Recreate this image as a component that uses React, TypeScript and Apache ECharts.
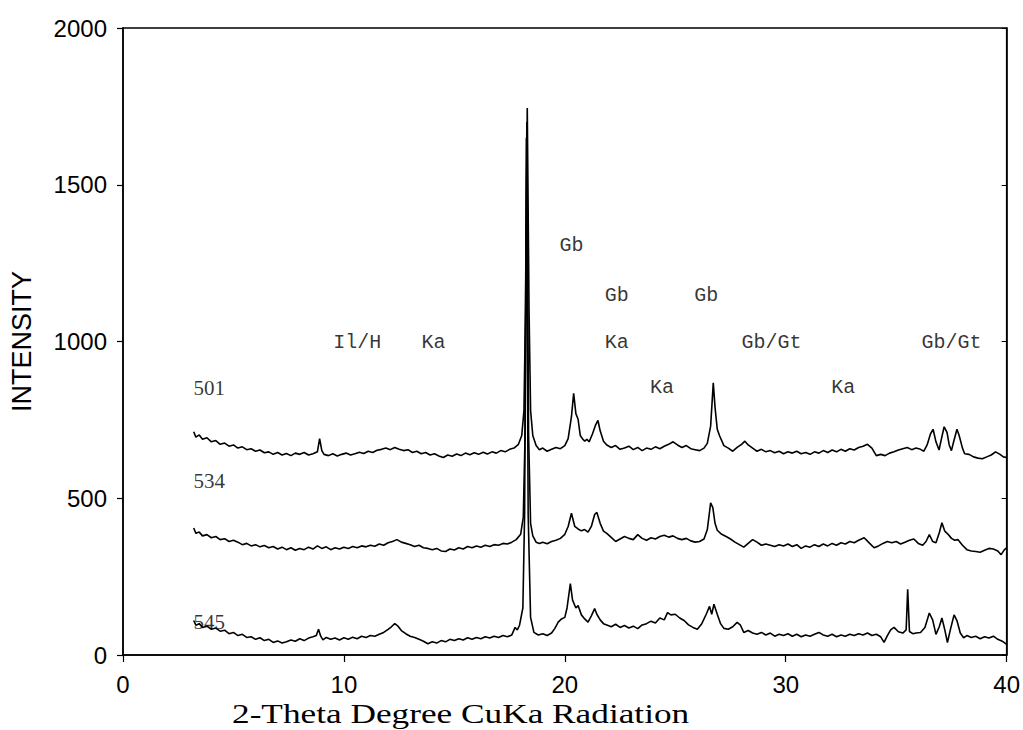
import React, { useEffect, useRef } from "react";
import * as echarts from "echarts";

// 2-theta (deg) vs intensity, sample 501 (top trace)
const s501: [number, number][] = [
  [3.2,712],[3.3,695],[3.45,702],[3.6,688],[3.8,693],[4.0,680],[4.2,684],[4.4,672],[4.6,676],[4.8,666],[5.0,670],[5.2,660],[5.4,664],[5.6,655],[5.8,658],[6.0,650],[6.2,654],[6.4,645],[6.6,648],[6.8,640],[7.0,646],[7.2,638],[7.4,643],[7.6,636],[7.8,644],[8.0,640],[8.2,646],[8.4,638],[8.6,642],[8.8,648],[8.9,690],[9.0,652],[9.1,640],[9.3,636],[9.5,642],[9.7,635],[9.9,640],[10.1,644],[10.3,638],[10.5,642],[10.7,647],[10.9,643],[11.1,650],[11.3,646],[11.5,653],[11.7,656],[11.9,660],[12.1,655],[12.3,662],[12.5,656],[12.7,652],[12.9,655],[13.1,646],[13.3,650],[13.5,642],[13.7,646],[13.9,638],[14.1,642],[14.3,635],[14.5,630],[14.7,638],[14.9,634],[15.1,641],[15.3,636],[15.5,644],[15.7,639],[15.9,645],[16.1,640],[16.3,647],[16.5,641],[16.7,648],[16.9,644],[17.1,652],[17.3,648],[17.5,656],[17.7,660],[17.9,672],[18.05,700],[18.15,780],[18.22,1100],[18.3,1745],[18.38,1100],[18.45,780],[18.55,700],[18.7,668],[18.85,655],[19.0,660],[19.2,650],[19.4,656],[19.6,662],[19.8,658],[20.0,668],[20.15,690],[20.3,760],[20.4,835],[20.5,770],[20.6,752],[20.7,700],[20.8,690],[20.9,682],[21.0,688],[21.1,680],[21.25,705],[21.4,735],[21.5,748],[21.6,715],[21.75,682],[21.9,670],[22.1,662],[22.3,668],[22.5,656],[22.7,660],[22.9,666],[23.1,655],[23.3,662],[23.5,652],[23.7,660],[23.9,656],[24.1,664],[24.3,658],[24.5,666],[24.7,672],[24.9,680],[25.1,670],[25.3,662],[25.5,668],[25.7,658],[25.9,655],[26.1,652],[26.3,660],[26.45,675],[26.6,730],[26.72,868],[26.8,790],[26.9,720],[27.0,700],[27.2,668],[27.4,660],[27.6,650],[27.8,662],[28.0,672],[28.15,682],[28.3,670],[28.5,660],[28.7,650],[28.9,656],[29.1,648],[29.3,652],[29.5,645],[29.7,650],[29.9,642],[30.1,648],[30.3,644],[30.5,650],[30.7,642],[30.9,646],[31.1,640],[31.3,648],[31.5,644],[31.7,652],[31.9,646],[32.1,654],[32.3,648],[32.5,656],[32.7,650],[32.9,658],[33.1,654],[33.3,662],[33.5,666],[33.7,672],[33.9,660],[34.1,636],[34.3,640],[34.5,636],[34.7,644],[34.9,648],[35.1,654],[35.3,658],[35.5,662],[35.7,655],[35.9,660],[36.1,656],[36.25,650],[36.4,670],[36.55,705],[36.67,720],[36.8,680],[36.94,654],[37.05,690],[37.17,728],[37.3,710],[37.4,670],[37.5,652],[37.6,680],[37.75,720],[37.85,700],[38.0,660],[38.1,642],[38.3,640],[38.5,632],[38.7,628],[38.9,626],[39.1,632],[39.3,638],[39.5,648],[39.7,640],[39.85,632],[40.0,630]
];

// sample 534 (middle trace)
const s534: [number, number][] = [
  [3.2,405],[3.3,388],[3.45,392],[3.6,380],[3.8,384],[4.0,374],[4.2,378],[4.4,368],[4.6,371],[4.8,362],[5.0,366],[5.2,360],[5.4,352],[5.6,356],[5.8,348],[6.0,352],[6.2,345],[6.4,349],[6.6,342],[6.8,346],[7.0,338],[7.2,344],[7.4,336],[7.6,342],[7.8,334],[8.0,340],[8.2,336],[8.4,344],[8.6,338],[8.8,348],[9.0,340],[9.2,345],[9.4,336],[9.6,342],[9.8,338],[10.0,344],[10.2,340],[10.4,346],[10.6,342],[10.8,348],[11.0,345],[11.2,350],[11.4,347],[11.6,354],[11.8,350],[12.0,358],[12.2,362],[12.4,368],[12.6,360],[12.8,356],[13.0,352],[13.2,346],[13.4,350],[13.6,342],[13.8,340],[14.0,336],[14.2,340],[14.4,332],[14.6,330],[14.8,338],[15.0,335],[15.2,342],[15.4,338],[15.6,346],[15.8,342],[16.0,348],[16.2,344],[16.4,350],[16.6,346],[16.8,352],[17.0,350],[17.2,356],[17.4,354],[17.6,360],[17.8,368],[18.0,385],[18.12,440],[18.2,700],[18.28,1700],[18.36,700],[18.45,420],[18.55,380],[18.7,360],[18.85,356],[19.0,360],[19.2,355],[19.4,362],[19.6,366],[19.8,372],[20.0,385],[20.15,410],[20.3,452],[20.45,410],[20.6,402],[20.75,396],[20.9,400],[21.05,392],[21.2,410],[21.35,448],[21.45,455],[21.6,420],[21.75,395],[21.9,388],[22.1,375],[22.3,362],[22.5,370],[22.7,378],[22.9,372],[23.1,368],[23.3,384],[23.5,372],[23.7,366],[23.9,374],[24.1,370],[24.3,378],[24.5,382],[24.7,376],[24.9,380],[25.1,372],[25.3,368],[25.5,372],[25.7,364],[25.9,360],[26.1,362],[26.3,370],[26.45,400],[26.6,485],[26.7,470],[26.8,420],[26.9,398],[27.1,385],[27.3,378],[27.5,370],[27.7,360],[27.9,352],[28.1,344],[28.3,356],[28.5,368],[28.7,360],[28.9,350],[29.1,354],[29.3,350],[29.5,346],[29.7,352],[29.9,348],[30.1,354],[30.3,346],[30.5,352],[30.7,340],[30.9,348],[31.1,344],[31.3,352],[31.5,346],[31.7,354],[31.9,348],[32.1,356],[32.3,350],[32.5,358],[32.7,354],[32.9,362],[33.1,358],[33.3,366],[33.55,374],[33.8,356],[34.0,342],[34.2,348],[34.4,356],[34.6,362],[34.8,358],[35.0,362],[35.2,354],[35.4,360],[35.6,366],[35.8,370],[36.0,356],[36.2,350],[36.35,362],[36.5,384],[36.65,362],[36.8,358],[36.95,390],[37.07,422],[37.2,395],[37.35,385],[37.5,372],[37.65,366],[37.8,368],[38.0,350],[38.2,336],[38.4,332],[38.6,330],[38.8,328],[39.0,334],[39.2,340],[39.4,338],[39.6,332],[39.75,320],[39.9,336],[40.0,342]
];

// sample 545 (bottom trace)
const s545: [number, number][] = [
  [3.2,110],[3.3,95],[3.45,100],[3.6,88],[3.8,92],[4.0,82],[4.2,86],[4.4,76],[4.6,79],[4.8,68],[5.0,72],[5.2,62],[5.4,66],[5.6,56],[5.8,58],[6.0,50],[6.2,55],[6.4,46],[6.6,50],[6.8,40],[7.0,45],[7.2,38],[7.4,42],[7.6,48],[7.8,44],[8.0,52],[8.2,46],[8.4,54],[8.6,58],[8.75,62],[8.85,82],[8.95,60],[9.05,48],[9.2,56],[9.4,50],[9.6,54],[9.8,48],[10.0,55],[10.2,50],[10.4,57],[10.6,52],[10.8,60],[11.0,56],[11.2,62],[11.4,60],[11.6,66],[11.8,72],[12.0,82],[12.15,90],[12.3,100],[12.45,92],[12.6,78],[12.8,68],[13.0,60],[13.2,56],[13.4,50],[13.6,44],[13.8,36],[14.0,42],[14.2,38],[14.4,46],[14.6,42],[14.8,50],[15.0,46],[15.2,52],[15.4,48],[15.6,55],[15.8,50],[16.0,56],[16.2,52],[16.4,58],[16.6,54],[16.8,60],[17.0,56],[17.2,62],[17.4,58],[17.6,64],[17.75,88],[17.85,80],[17.95,95],[18.1,150],[18.18,450],[18.26,1650],[18.34,450],[18.45,120],[18.6,72],[18.8,64],[19.0,68],[19.2,62],[19.4,70],[19.55,85],[19.7,105],[19.85,115],[20.0,120],[20.1,150],[20.25,228],[20.35,175],[20.5,150],[20.6,158],[20.75,128],[20.9,115],[21.05,105],[21.2,125],[21.35,148],[21.45,130],[21.6,112],[21.75,100],[21.9,96],[22.1,90],[22.3,98],[22.5,88],[22.7,94],[22.9,86],[23.1,92],[23.3,84],[23.5,96],[23.7,100],[23.9,108],[24.1,102],[24.3,118],[24.5,112],[24.65,135],[24.8,128],[25.0,130],[25.2,118],[25.4,110],[25.6,96],[25.8,88],[26.0,82],[26.2,100],[26.4,130],[26.55,155],[26.65,130],[26.75,162],[26.9,130],[27.05,100],[27.2,85],[27.4,82],[27.6,90],[27.8,104],[27.95,95],[28.1,72],[28.3,78],[28.5,70],[28.7,66],[28.9,72],[29.1,64],[29.3,70],[29.5,60],[29.7,66],[29.9,62],[30.1,68],[30.3,60],[30.5,66],[30.7,58],[30.9,64],[31.1,60],[31.3,66],[31.5,72],[31.7,64],[31.9,60],[32.1,66],[32.3,58],[32.5,64],[32.7,60],[32.9,66],[33.1,62],[33.3,68],[33.5,64],[33.7,70],[33.9,62],[34.1,66],[34.3,58],[34.45,40],[34.6,62],[34.75,80],[34.9,88],[35.1,74],[35.3,70],[35.45,80],[35.52,210],[35.6,75],[35.75,68],[35.9,70],[36.1,72],[36.3,88],[36.5,134],[36.65,112],[36.8,66],[36.95,90],[37.07,118],[37.2,80],[37.32,40],[37.45,80],[37.62,128],[37.75,110],[37.9,70],[38.05,55],[38.2,62],[38.4,56],[38.6,60],[38.8,52],[39.0,58],[39.2,54],[39.4,60],[39.6,50],[39.8,44],[40.0,34]
];

// phase annotations: [2-theta, intensity, label]
const phaseLabels: [number, number, string][] = [
  [20.3, 1305, "Gb"],
  [22.35, 1148, "Gb"],
  [26.4, 1148, "Gb"],
  [10.6, 998, "Il/H"],
  [14.05, 998, "Ka"],
  [22.35, 998, "Ka"],
  [29.35, 998, "Gb/Gt"],
  [37.5, 998, "Gb/Gt"],
  [24.4, 852, "Ka"],
  [32.6, 852, "Ka"],
];

// sample name labels: [2-theta, intensity, label]
const sampleLabels: [number, number, string][] = [
  [3.9, 852, "501"],
  [3.9, 555, "534"],
  [3.9, 105, "545"],
];

const yTicks = [0, 500, 1000, 1500, 2000];
const xTicks = [0, 10, 20, 30, 40];

export default function App() {
  const ref = useRef<HTMLDivElement>(null);
  useEffect(() => {
    if (!ref.current) return;
    const chart = echarts.init(ref.current, undefined, { renderer: "svg" });
    const lineSeries = (data: [number, number][], name: string) => ({
      type: "line",
      name,
      data,
      showSymbol: false,
      symbol: "none",
      lineStyle: { color: "#000", width: 1.6 },
      silent: true,
      z: 3,
    });
    chart.setOption({
      animation: false,
      backgroundColor: "#fff",
      grid: {
        left: 122,
        right: 13,
        top: 28,
        bottom: 75,
        show: true,
        borderColor: "#000",
        borderWidth: 1.5,
        backgroundColor: "transparent",
      },
      xAxis: {
        type: "value",
        min: xTicks[0],
        max: xTicks[xTicks.length - 1],
        interval: 10,
        axisLine: { show: true, onZero: false, lineStyle: { color: "#000", width: 1.5 } },
        axisTick: { show: true, inside: false, length: 7, lineStyle: { color: "#000", width: 1.2 } },
        axisLabel: {
          color: "#000",
          fontSize: 24,
          fontFamily: "Liberation Sans, Arial, sans-serif",
          margin: 17,
          formatter: (v: number) => String(v),
        },
        splitLine: { show: false },
      },
      yAxis: [
        {
          type: "value",
          min: yTicks[0],
          max: yTicks[yTicks.length - 1],
          interval: 500,
          name: "INTENSITY",
          nameLocation: "middle",
          nameGap: 88,
          nameTextStyle: {
            color: "#000",
            fontSize: 27,
            fontFamily: "Liberation Sans, Arial, sans-serif",
          },
          axisLine: { show: true, lineStyle: { color: "#000", width: 1.5 } },
          axisTick: { show: true, inside: false, length: 6, lineStyle: { color: "#000", width: 1.2 } },
          axisLabel: {
            color: "#000",
            fontSize: 24,
            fontFamily: "Liberation Sans, Arial, sans-serif",
            margin: 16,
            formatter: (v: number) => String(v),
          },
          splitLine: { show: false },
        },
        {
          type: "value",
          position: "right",
          min: yTicks[0],
          max: yTicks[yTicks.length - 1],
          interval: 500,
          axisLine: { show: true, lineStyle: { color: "#000", width: 1.5 } },
          axisTick: { show: true, inside: true, length: 5, lineStyle: { color: "#000", width: 1 } },
          axisLabel: { show: false },
          splitLine: { show: false },
        },
      ],
      series: [
        lineSeries(s501, "501"),
        lineSeries(s534, "534"),
        lineSeries(s545, "545"),
        {
          type: "scatter",
          name: "phases",
          data: phaseLabels.map((p) => ({ value: [p[0], p[1]], name: p[2] })),
          symbolSize: 0,
          silent: true,
          z: 5,
          label: {
            show: true,
            position: "inside",
            formatter: (p: any) => p.name,
            color: "#000",
            fontSize: 20,
            fontFamily: "Liberation Mono, Courier New, monospace",
            align: "center",
            verticalAlign: "middle",
          },
        },
        {
          type: "scatter",
          name: "samples",
          data: sampleLabels.map((p) => ({ value: [p[0], p[1]], name: p[2] })),
          symbolSize: 0,
          silent: true,
          z: 5,
          label: {
            show: true,
            position: "inside",
            formatter: (p: any) => p.name,
            color: "#000",
            fontSize: 21,
            fontFamily: "Liberation Serif, Times New Roman, serif",
            align: "center",
            verticalAlign: "middle",
          },
        },
      ],
      graphic: [
        {
          type: "text",
          x: 232,
          y: 700,
          scaleX: 1.26,
          silent: true,
          style: {
            text: "2-Theta Degree CuKa Radiation",
            fill: "#000",
            fontSize: 28,
            fontFamily: "Liberation Serif, Times New Roman, serif",
            textVerticalAlign: "top",
          },
        },
      ],
    });
    return () => chart.dispose();
  }, []);
  return (
    <div
      ref={ref}
      style={{ position: "absolute", left: 0, top: 0, width: 1023, height: 730, background: "#fff" }}
    />
  );
}
